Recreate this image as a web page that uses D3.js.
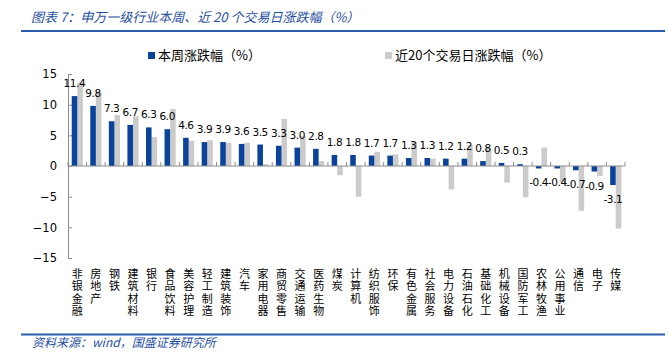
<!DOCTYPE html>
<html>
<head>
<meta charset="utf-8">
<script src="https://cdn.jsdelivr.net/npm/d3@7"></script>
<style>
  body { margin: 0; background: #fff; }
  svg { display: block; }
</style>
</head>
<body>
<div id="chart"></div>
<script>
// Constants for the chart
const CHART_WIDTH = 669;
const CHART_HEIGHT = 362;
const MARGIN = { left: 68, right: 44, top: 74, bottom: 104 };

const BLUE = "#0b439b";
const GRAY = "#cbcbcb";
const TITLE_BLUE = "#1f4fa0";

// Data
const categories = ["非银金融", "房地产", "钢铁", "建筑材料", "银行", "食品饮料", "美容护理", "轻工制造",
  "建筑装饰", "汽车", "家用电器", "商贸零售", "交通运输", "医药生物", "煤炭", "计算机", "纺织服饰", "环保",
  "有色金属", "社会服务", "电力设备", "石油石化", "基础化工", "机械设备", "国防军工", "农林牧渔", "公用事业",
  "通信", "电子", "传媒"];
const weekChg = [11.4, 9.8, 7.3, 6.7, 6.3, 6.0, 4.6, 3.9, 3.9, 3.6, 3.5, 3.3, 3.0, 2.8, 1.8, 1.8, 1.7, 1.7,
  1.3, 1.3, 1.2, 1.2, 0.8, 0.5, 0.3, -0.4, -0.4, -0.7, -0.9, -3.1];
const chg20d = [13.6, 12.1, 8.3, 8.1, 4.7, 9.3, 4.1, 4.2, 3.8, 3.8, 0.3, 7.7, 4.9, 0.8, -1.5, -5.0, 2.3, 1.9,
  3.9, 1.2, -3.8, 3.4, 3.0, -2.7, -5.1, 3.0, -2.7, -7.3, -1.6, -10.2];
const yTicks = [-15, -10, -5, 0, 5, 10, 15];
const seriesNames = ["本周涨跌幅（%）", "近20个交易日涨跌幅（%）"];

let svg = d3.select("#chart").append("svg")
  .attr("width", CHART_WIDTH)
  .attr("height", CHART_HEIGHT);

svg.append("rect").attr("width", CHART_WIDTH).attr("height", CHART_HEIGHT).attr("fill", "#fff");

// Title + rules
svg.append("text")
  .attr("x", 31)
  .attr("y", 22)
  .attr("fill", TITLE_BLUE)
  .style("font-family", "'Noto Sans CJK SC'")
  .style("font-style", "italic")
  .style("font-size", "13px")
  .text("图表 7：申万一级行业本周、近 20 个交易日涨跌幅（%）");

svg.append("line")
  .attr("x1", 21).attr("x2", 665).attr("y1", 31).attr("y2", 31)
  .attr("stroke", "#2a5caa").attr("stroke-width", 2);

svg.append("line")
  .attr("x1", 21).attr("x2", 665).attr("y1", 334.5).attr("y2", 334.5)
  .attr("stroke", "#2a5caa").attr("stroke-width", 2);

svg.append("text")
  .attr("x", 32)
  .attr("y", 347)
  .attr("fill", TITLE_BLUE)
  .style("font-family", "'Noto Sans CJK SC'")
  .style("font-style", "italic")
  .style("font-size", "12px")
  .text("资料来源：wind，国盛证券研究所");

// Scales
let xScale = d3.scaleBand()
  .domain(categories)
  .range([MARGIN.left, CHART_WIDTH - MARGIN.right])
  .paddingInner(0.4)
  .paddingOuter(0.2);

let xSub = d3.scaleBand()
  .domain([0, 1])
  .range([0, xScale.bandwidth()]);

let yScale = d3.scaleLinear()
  .domain([-15, 15])
  .range([CHART_HEIGHT - MARGIN.bottom, MARGIN.top]);

let y0 = yScale(0);

// Y axis
let yAxis = d3.axisLeft(yScale)
  .tickValues(yTicks)
  .tickSizeInner(-4)
  .tickSizeOuter(0)
  .tickPadding(11);

let yG = svg.append("g")
  .attr("transform", `translate(${MARGIN.left}, 0)`)
  .call(yAxis);
yG.select(".domain").attr("stroke", "#8c8c8c");
yG.selectAll(".tick line").attr("stroke", "#8c8c8c");
yG.selectAll(".tick text")
  .attr("fill", "#000")
  .style("font-family", "'DejaVu Sans'")
  .style("font-size", "11.5px");

// Bars
let chart = svg.append("g");
let rows = categories.map((c, i) => ({ c, week: weekChg[i], d20: chg20d[i] }));

chart.selectAll("rect.d20")
  .data(rows)
  .join("rect")
  .attr("class", "d20")
  .attr("x", d => xScale(d.c) + xSub(1))
  .attr("width", xSub.bandwidth())
  .attr("y", d => Math.min(yScale(d.d20), y0))
  .attr("height", d => Math.abs(yScale(d.d20) - y0))
  .attr("fill", GRAY);

chart.selectAll("rect.week")
  .data(rows)
  .join("rect")
  .attr("class", "week")
  .attr("x", d => xScale(d.c) + xSub(0))
  .attr("width", xSub.bandwidth())
  .attr("y", d => Math.min(yScale(d.week), y0))
  .attr("height", d => Math.abs(yScale(d.week) - y0))
  .attr("fill", BLUE);

// X axis line at zero with ticks at category boundaries
let step = xScale.step();
let bounds = d3.range(categories.length + 1).map(i => MARGIN.left + i * step);
svg.append("line")
  .attr("x1", MARGIN.left).attr("x2", CHART_WIDTH - MARGIN.right)
  .attr("y1", y0).attr("y2", y0)
  .attr("stroke", "#8c8c8c");
svg.selectAll("line.xtick")
  .data(bounds)
  .join("line")
  .attr("class", "xtick")
  .attr("x1", d => d).attr("x2", d => d)
  .attr("y1", y0).attr("y2", y0 - 4)
  .attr("stroke", "#8c8c8c");

// Value labels (weekly series)
chart.selectAll("text.val")
  .data(rows)
  .join("text")
  .attr("class", "val")
  .attr("x", d => xScale(d.c) + xSub(0) + xSub.bandwidth() / 2)
  .attr("y", d => d.week >= 0 ? yScale(d.week) - 9 : yScale(d.week) + 18)
  .attr("text-anchor", "middle")
  .attr("fill", "#000")
  .style("font-family", "'DejaVu Sans'")
  .style("font-size", "10.5px")
  .style("letter-spacing", "-0.4px")
  .text(d => d.week.toFixed(1));

// Category labels, stacked vertically
let catLabels = svg.selectAll("text.cat")
  .data(categories)
  .join("text")
  .attr("class", "cat")
  .attr("text-anchor", "middle")
  .attr("fill", "#000")
  .style("font-family", "'Noto Sans CJK SC'")
  .style("font-size", "11px");

catLabels.selectAll("tspan")
  .data(d => d.split("").map(ch => ({ ch, x: xScale(d) + xScale.bandwidth() / 2 })))
  .join("tspan")
  .attr("x", d => d.x)
  .attr("y", (d, i) => 278 + i * 12.3)
  .text(d => d.ch);

// Legend
let legend = svg.append("g");
let legendItems = [
  { name: seriesNames[0], color: BLUE, x: 148 },
  { name: seriesNames[1], color: GRAY, x: 385 }
];
legendItems.forEach(item => {
  legend.append("rect")
    .attr("x", item.x).attr("y", 52)
    .attr("width", 7).attr("height", 7)
    .attr("fill", item.color);
  legend.append("text")
    .attr("x", item.x + 10)
    .attr("y", 60)
    .attr("fill", "#000")
    .style("font-family", "'Noto Sans CJK SC'")
    .style("font-size", "13px")
    .text(item.name);
});
</script>
</body>
</html>
